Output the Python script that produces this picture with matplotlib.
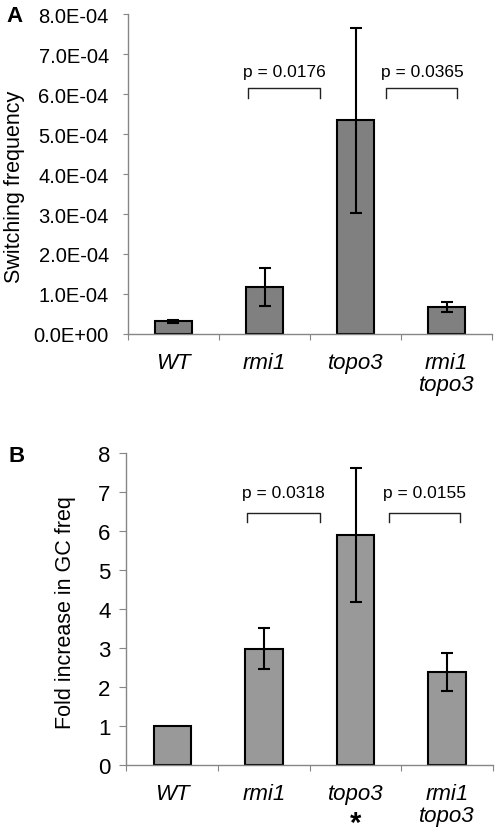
import matplotlib
matplotlib.use("Agg")
import matplotlib.pyplot as plt
import matplotlib.transforms as mtransforms
import numpy as np

plt.rcParams['font.family'] = ['Liberation Sans', 'DejaVu Sans']

categories = ["WT", "rmi1", "topo3", "rmi1\ntopo3"]

# panel A: switching frequency
switch_freq = [3.2e-05, 1.18e-04, 5.34e-04, 6.7e-05]
switch_err = [0.35e-05, 0.47e-04, 2.31e-04, 1.25e-05]
switch_pvals = [("p = 0.0176", 0.82, 1.61), ("p = 0.0365", 2.34, 3.12)]
switch_bracket_y = (6.15e-04, 5.9e-04, 6.56e-04)

# panel B: fold increase in GC freq
fold_inc = [1.0, 2.98, 5.9, 2.38]
fold_err = [0.0, 0.52, 1.72, 0.49]
fold_stars = ["", "", "*", ""]
fold_pvals = [("p = 0.0318", 0.82, 1.61), ("p = 0.0155", 2.36, 3.14)]
fold_bracket_y = (6.46, 6.23, 7.0)

axis_grey = "#868686"
H = 837.0


def style_axes(ax, n, ylab_size, ylab_pad, ytick_len):
    for side in ["top", "right"]:
        ax.spines[side].set_visible(False)
    for side in ["left", "bottom"]:
        ax.spines[side].set_color(axis_grey)
        ax.spines[side].set_linewidth(1.0)
    ax.set_xlim(-0.5, n - 0.5)
    ax.set_xticks(np.arange(-0.5, n, 1.0))
    ax.set_xticklabels([])
    ax.set_xticks(np.arange(n), minor=True)
    ax.set_xticklabels(categories, minor=True, style="italic", fontsize=16,
                       linespacing=1.05, va="top")
    ax.tick_params(axis="x", which="major", direction="out", length=4, color=axis_grey)
    ax.tick_params(axis="x", which="minor", length=0, pad=13)
    ax.tick_params(axis="y", direction="out", length=ytick_len, color=axis_grey,
                   labelsize=ylab_size, pad=ylab_pad)


def draw_brackets(ax, pvals, ys, fontsize=12.5):
    top, bottom, text_y = ys
    for label, x0, x1 in pvals:
        ax.plot([x0, x0, x1, x1], [bottom, top, top, bottom], color="#222222", lw=1.0)
        ax.text((x0 + x1) / 2, text_y, label, ha="center", va="center", fontsize=fontsize)


fig = plt.figure(figsize=(4.98, 8.37), dpi=100)
x = np.arange(len(categories))

# ---- panel A
ax1 = fig.add_axes([0.257, 0.5998, 0.731, 0.3822])
ax1.bar(x, switch_freq, width=0.41, color="#808080", edgecolor="black", linewidth=1.5,
        zorder=2)
ax1.errorbar(x, switch_freq, yerr=switch_err, fmt="none", ecolor="black", elinewidth=1.5,
             capsize=4.5, capthick=1.5, zorder=3)
ax1.set_ylim(0, 8e-04)
ax1.set_yticks(np.arange(0, 8.01e-04, 1e-04))
ax1.set_yticklabels(["0.0E+00"] + [f"{i}.0E-04" for i in range(1, 9)])
style_axes(ax1, len(categories), 14.5, 10, 3.8)
draw_brackets(ax1, switch_pvals, switch_bracket_y)
fig.text(15 / 498, 1 - 187 / H, "Switching frequency", rotation=90, fontsize=15.5,
         ha="center", va="center")
fig.text(14 / 498, 1 - 16 / H, "A", fontsize=16, fontweight="bold", ha="center",
         va="center")

# ---- panel B
ax2 = fig.add_axes([0.254, 0.0852, 0.736, 0.372])
ax2.bar(x, fold_inc, width=0.41, color="#999999", edgecolor="black", linewidth=1.5,
        zorder=2)
errs_x = [i for i in x if fold_err[i] > 0]
ax2.errorbar(errs_x, [fold_inc[i] for i in errs_x], yerr=[fold_err[i] for i in errs_x],
             fmt="none", ecolor="black", elinewidth=1.5, capsize=4.5, capthick=1.5, zorder=3)
ax2.set_ylim(0, 8)
ax2.set_yticks(np.arange(0, 9, 1))
style_axes(ax2, len(categories), 16, 6.5, 5)
draw_brackets(ax2, fold_pvals, fold_bracket_y)
fig.text(65.5 / 498, 1 - 613 / H, "Fold increase in GC freq", rotation=90, fontsize=15.5,
         ha="center", va="center")
trans = mtransforms.blended_transform_factory(ax2.transData, fig.transFigure)
for i, s in enumerate(fold_stars):
    if s:
        fig.text(x[i], 1 - 824 / H, s, transform=trans, ha="center", va="center",
                 fontsize=21, fontweight="bold")
fig.text(17 / 498, 1 - 457 / H, "B", fontsize=16, fontweight="bold", ha="center",
         va="center")

fig.savefig("out.png", dpi=100)
